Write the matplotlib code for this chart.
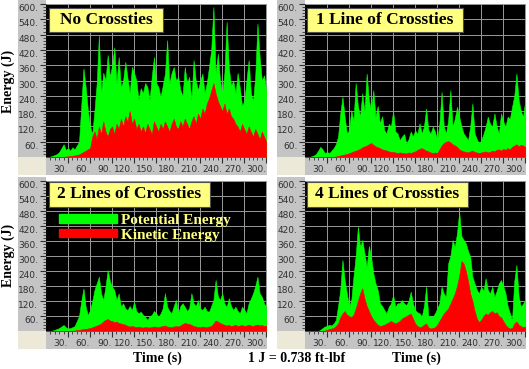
import numpy as np
import matplotlib
matplotlib.use("Agg")
import matplotlib.pyplot as plt
from matplotlib.patches import Rectangle, Patch

# time axis (s), one reading every 3 s
time = np.arange(0, 301, 3)

# No Crossties
pe_none = [0, 0, 2, 5, 8, 12, 20, 35, 50, 28,
           35, 25, 38, 30, 45, 60, 200, 347, 275, 184,
           120, 90, 184, 288, 477, 250, 330, 300, 400, 314,
           360, 430, 288, 392, 270, 300, 373, 310, 250, 353,
           330, 300, 223, 270, 250, 290, 275, 223, 314, 392,
           290, 275, 236, 280, 327, 458, 288, 330, 353, 300,
           314, 262, 240, 353, 290, 314, 223, 380, 300, 262,
           300, 327, 250, 290, 353, 420, 588, 327, 405, 300,
           250, 330, 530, 350, 280, 300, 250, 330, 270, 200,
           220, 300, 380, 250, 220, 320, 523, 390, 300, 320, 260]
ke_none = [0, 0, 0, 0, 0, 0, 0, 0, 0, 2,
           3, 4, 5, 6, 8, 10, 15, 20, 25, 30,
           35, 80, 100, 70, 120, 90, 140, 100, 80, 110,
           120, 90, 130, 110, 150, 120, 160, 140, 180, 130,
           150, 110, 130, 100, 120, 95, 130, 110, 90, 140,
           120, 100, 130, 110, 140, 120, 100, 130, 150, 120,
           110, 140, 120, 150, 130, 110, 140, 160, 130, 170,
           150, 190, 170, 210, 230, 260, 290, 250, 220, 200,
           180, 210, 170, 190, 160, 150, 130, 120, 100, 130,
           110, 90, 120, 100, 80, 110, 90, 70, 100, 80, 60]

# 1 Line of Crossties
pe_one = [0, 0, 0, 3, 6, 12, 25, 40, 30, 15,
          20, 15, 25, 35, 50, 80, 170, 236, 158, 92,
          105, 184, 140, 290, 200, 158, 250, 180, 327, 223,
          184, 262, 158, 200, 132, 160, 105, 92, 130, 119,
          180, 100, 92, 66, 80, 90, 53, 70, 100, 80,
          105, 90, 132, 92, 120, 190, 105, 92, 119, 100,
          66, 130, 255, 120, 92, 145, 262, 119, 150, 197,
          158, 120, 92, 80, 66, 119, 210, 92, 70, 53,
          66, 90, 119, 158, 130, 119, 171, 120, 92, 171,
          140, 119, 158, 150, 197, 240, 327, 223, 180, 158, 223]
ke_one = [0, 0, 0, 0, 0, 0, 0, 0, 0, 0,
          0, 0, 0, 1, 2, 4, 6, 8, 10, 12,
          15, 18, 22, 25, 28, 32, 38, 42, 45, 50,
          55, 48, 42, 38, 35, 30, 28, 25, 22, 20,
          20, 18, 15, 18, 16, 15, 14, 18, 15, 20,
          22, 28, 32, 35, 30, 25, 22, 18, 15, 18,
          15, 30, 45, 55, 60, 62, 58, 50, 45, 40,
          30, 25, 22, 20, 18, 22, 25, 20, 18, 15,
          18, 20, 22, 18, 20, 25, 22, 28, 30, 25,
          32, 28, 35, 30, 40, 45, 50, 42, 48, 45, 40]

# 2 Lines of Crossties
pe_two = [0, 0, 0, 2, 5, 8, 12, 18, 24, 15,
          10, 12, 15, 20, 40, 60, 120, 170, 97, 64,
          84, 120, 164, 190, 217, 150, 124, 177, 244, 200,
          177, 164, 124, 150, 97, 111, 90, 84, 100, 84,
          117, 80, 71, 77, 65, 57, 44, 60, 64, 80,
          71, 57, 70, 91, 151, 97, 80, 71, 100, 124,
          71, 100, 111, 97, 80, 91, 151, 111, 100, 124,
          90, 84, 97, 80, 77, 100, 124, 204, 140, 124,
          151, 110, 97, 131, 100, 84, 97, 80, 71, 97,
          85, 71, 111, 130, 151, 180, 217, 150, 137, 110, 97]
ke_two = [0, 0, 0, 0, 0, 0, 0, 0, 0, 0,
          0, 0, 0, 2, 4, 5, 6, 8, 8, 10,
          12, 15, 18, 22, 25, 30, 38, 45, 48, 42,
          40, 35, 38, 32, 30, 28, 25, 20, 18, 20,
          18, 15, 17, 15, 14, 16, 15, 14, 16, 18,
          17, 15, 18, 20, 22, 18, 16, 15, 18, 20,
          18, 22, 28, 32, 30, 28, 25, 20, 18, 16,
          15, 18, 16, 15, 18, 20, 30, 42, 38, 32,
          28, 25, 22, 24, 20, 22, 25, 20, 22, 24,
          20, 22, 25, 22, 20, 24, 26, 22, 24, 20, 22]

# 4 Lines of Crossties
pe_four = [0, 0, 0, 0, 0, 0, 0, 5, 12, 18,
           20, 25, 22, 30, 44, 100, 164, 284, 204, 150,
           97, 124, 217, 300, 417, 337, 364, 311, 257, 340,
           297, 231, 190, 164, 111, 100, 84, 71, 97, 110,
           144, 97, 111, 111, 124, 110, 104, 120, 157, 110,
           84, 75, 71, 57, 100, 177, 57, 60, 57, 71,
           90, 111, 177, 150, 137, 271, 300, 364, 337, 391,
           477, 380, 364, 351, 320, 297, 217, 190, 164, 151,
           177, 160, 211, 164, 150, 177, 137, 160, 191, 204,
           180, 151, 100, 71, 44, 200, 264, 137, 97, 110, 124]
ke_four = [0, 0, 0, 0, 0, 0, 0, 0, 0, 2,
           5, 8, 10, 12, 20, 30, 55, 70, 80, 65,
           60, 55, 65, 90, 120, 150, 171, 130, 100, 80,
           60, 45, 35, 25, 20, 22, 25, 30, 35, 40,
           35, 30, 35, 40, 50, 55, 60, 65, 70, 50,
           30, 20, 15, 18, 25, 30, 15, 10, 12, 15,
           25, 40, 55, 70, 80, 90, 110, 130, 150, 180,
           220, 280, 270, 240, 200, 150, 120, 80, 50, 35,
           45, 60, 70, 65, 75, 80, 70, 75, 60, 55,
           40, 25, 15, 10, 12, 30, 38, 25, 20, 15, 18]

titles = ["No Crossties", "1 Line of Crossties",
          "2 Lines of Crossties", "4 Lines of Crossties"]
pe_all = [pe_none, pe_one, pe_two, pe_four]
ke_all = [ke_none, ke_one, ke_two, ke_four]

xticks = list(range(30, 301, 30))
yticks = list(range(60, 601, 60))

W, H = 529, 369
fig = plt.figure(figsize=(W / 100, H / 100), dpi=100)
fig.patch.set_facecolor("white")


def frac(x0, y0, x1, y1):
    return [x0 / W, 1 - y1 / H, (x1 - x0) / W, (y1 - y0) / H]


def rect(x0, y0, x1, y1, color):
    l, b, w, h = frac(x0, y0, x1, y1)
    fig.add_artist(Rectangle((l, b), w, h, transform=fig.transFigure,
                             facecolor=color, edgecolor="none", zorder=-1))


# pixel boxes of the plotting areas and the title boxes (axes fraction)
plot_px = [(46, 4, 267, 157), (305, 4, 526, 157),
           (46, 181, 267, 331), (305, 181, 526, 331)]
title_box = [(0.014, 0.817, 0.529, 0.974), (0.009, 0.817, 0.715, 0.974),
             (0.014, 0.827, 0.742, 0.993), (0.009, 0.827, 0.738, 0.993)]

serif = "Liberation Serif"
axes = []
for i in range(4):
    x0, y0, x1, y1 = plot_px[i]
    rect(x0 - 28, y0 - 4, x0, y1, "#c4c4c4")
    rect(x0, y1, x1, y1 + 18, "#c4c4c4")
    rect(x0 - 28, y1, x0, y1 + 18, "#ece9d8")

    ax = fig.add_axes(frac(x0, y0, x1, y1))
    ax.set_facecolor("black")
    ax.fill_between(time, pe_all[i], color="#00ff00", lw=0.4)
    ax.fill_between(time, ke_all[i], color="#ff0000", lw=0.4)
    ax.set_xlim(0, 301)
    ax.set_ylim(0, 600)
    ax.set_xticks(xticks, [f"{v}." for v in xticks], ha="right")
    ax.set_yticks(yticks, [f"{v}." for v in yticks], va="top")
    ax.set_xticks(range(6, 301, 6), minor=True)
    ax.set_yticks(range(12, 600, 12), minor=True)
    ax.tick_params(which="major", length=4, width=0.8, color="#303030",
                   labelsize=6.5, labelcolor="#303030", pad=1.5)
    ax.tick_params(which="minor", length=2, width=0.6, color="#303030")
    ax.grid(True, color="#9a9a9a", lw=0.7)
    ax.set_axisbelow(True)
    for s in ax.spines.values():
        s.set_visible(False)

    bx0, by0, bx1, by1 = title_box[i]
    ax.add_patch(Rectangle((bx0, by0), bx1 - bx0, by1 - by0,
                           transform=ax.transAxes, facecolor="#ffff80",
                           edgecolor="#505050", lw=0.8, zorder=5))
    ax.text((bx0 + bx1) / 2, (by0 + by1) / 2, titles[i],
            transform=ax.transAxes, ha="center", va="center",
            family=serif, weight="bold", size=12.5, color="black", zorder=6)
    axes.append(ax)

handles = [Patch(facecolor="#00ff00", edgecolor="#00ff00"),
           Patch(facecolor="#ff0000", edgecolor="#ff0000")]
axes[2].legend(handles, ["Potential Energy", "Kinetic Energy"],
               loc="upper left", bbox_to_anchor=(0.059, 0.78),
               frameon=False, borderpad=0, borderaxespad=0,
               handlelength=3.8, handleheight=0.5, handletextpad=0.25,
               labelspacing=0.1,
               prop=dict(family=serif, weight="bold", size=11),
               labelcolor="#ffff80")

label_font = dict(family=serif, weight="bold", size=10, color="black")
fig.text(8 / W, 1 - 81 / H, "Energy (J)", rotation=90,
         ha="center", va="center", **label_font)
fig.text(8 / W, 1 - 255 / H, "Energy (J)", rotation=90,
         ha="center", va="center", **label_font)
fig.text(157 / W, 1 - 358 / H, "Time (s)", ha="center", va="center",
         **label_font)
fig.text(416 / W, 1 - 358 / H, "Time (s)", ha="center", va="center",
         **label_font)
fig.text(297 / W, 1 - 358 / H, "1 J = 0.738 ft-lbf", ha="center",
         va="center", **label_font)

fig.savefig("out.png", dpi=100)
